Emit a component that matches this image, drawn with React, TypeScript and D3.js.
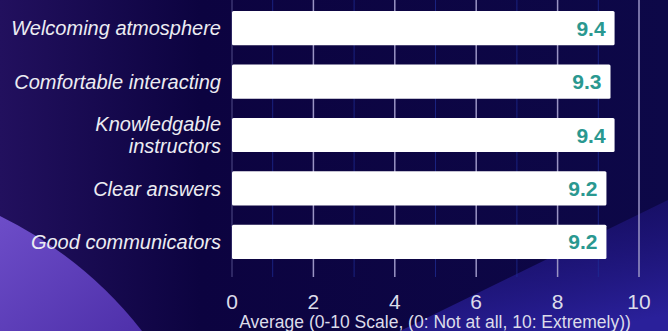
import React from "react";
import * as d3 from "d3";

const categories = [
  "Welcoming atmosphere",
  "Comfortable interacting",
  "Knowledgable instructors",
  "Clear answers",
  "Good communicators",
];
const averages = [9.4, 9.3, 9.4, 9.2, 9.2];
const majorTicks = [0, 2, 4, 6, 8, 10];
const minorTicks = [1, 3, 5, 7, 9];
const axisTitle = "Average (0-10 Scale, (0: Not at all, 10: Extremely))";

const W = 668;
const H = 331;

// label lines for the wrapped category
const labelLines: Record<string, string[]> = {
  "Knowledgable instructors": ["Knowledgable", "instructors"],
};

export default function App() {
  const x = d3.scaleLinear().domain([0, 10]).range([232, 639]);
  const y = d3
    .scaleBand<string>()
    .domain(categories)
    .range([11, 259])
    .paddingInner(0.36)
    .paddingOuter(0);
  const gridTop = 0;
  const gridBottom = 277;
  const font = "Arial, 'Liberation Sans', Helvetica, sans-serif";

  return (
    <svg
      width={W}
      height={H}
      style={{ position: "absolute", left: 0, top: 0, display: "block" }}
    >
      <defs>
        <linearGradient id="bg" x1="0" y1="0" x2="1" y2="0">
          <stop offset="0" stopColor="#22105e" />
          <stop offset="0.3" stopColor="#0c0340" />
          <stop offset="1" stopColor="#0d0848" />
        </linearGradient>
        <linearGradient id="swoosh" x1="0" y1="0" x2="1" y2="1">
          <stop offset="0" stopColor="#6d4dc8" />
          <stop offset="1" stopColor="#4e30aa" />
        </linearGradient>
        <linearGradient id="wedge" x1="0.3" y1="0" x2="0.7" y2="1">
          <stop offset="0" stopColor="#1a1070" stopOpacity="0.5" />
          <stop offset="1" stopColor="#2a209a" />
        </linearGradient>
      </defs>
      <rect x={0} y={0} width={W} height={H} fill="url(#bg)" />
      <path d="M0,216 Q85,258 142,331 L0,331 Z" fill="url(#swoosh)" />
      <path d="M400,331 L668,200 L668,331 Z" fill="url(#wedge)" />

      {minorTicks.map((t) => (
        <line
          key={"m" + t}
          x1={x(t)}
          x2={x(t)}
          y1={gridTop}
          y2={gridBottom}
          stroke="#1f2f9a"
          strokeWidth={1}
          opacity={0.7}
        />
      ))}
      {majorTicks.map((t) => (
        <line
          key={"g" + t}
          x1={x(t)}
          x2={x(t)}
          y1={gridTop}
          y2={gridBottom}
          stroke={t === 0 ? "#3a3470" : "#9a94c4"}
          strokeWidth={1.5}
        />
      ))}

      {categories.map((c, i) => {
        const y0 = y(c)!;
        const bw = y.bandwidth();
        const cy = y0 + bw / 2;
        const lines = labelLines[c] || [c];
        const lh = 22;
        return (
          <g key={c}>
            <rect
              x={x(0)}
              y={y0}
              width={x(averages[i]) - x(0)}
              height={bw}
              fill="#ffffff"
              rx={1.5}
            />
            <text
              x={x(averages[i]) - 9}
              y={cy}
              dy="0.36em"
              textAnchor="end"
              fill="#2a9890"
              fontFamily={font}
              fontWeight="bold"
              fontSize={21}
            >
              {averages[i].toFixed(1)}
            </text>
            {lines.map((ln, j) => (
              <text
                key={j}
                x={221}
                y={cy + (j - (lines.length - 1) / 2) * lh}
                dy="0.36em"
                textAnchor="end"
                fill="#ececf2"
                fontFamily={font}
                fontStyle="italic"
                fontSize={20}
              >
                {ln}
              </text>
            ))}
          </g>
        );
      })}

      {majorTicks.map((t) => (
        <text
          key={"t" + t}
          x={x(t)}
          y={309}
          textAnchor="middle"
          fill="#dcdcea"
          fontFamily={font}
          fontSize={21}
        >
          {t}
        </text>
      ))}
      <text
        x={435}
        y={328}
        textAnchor="middle"
        fill="#dcdcea"
        fontFamily={font}
        fontSize={17.5}
      >
        {axisTitle}
      </text>
    </svg>
  );
}
